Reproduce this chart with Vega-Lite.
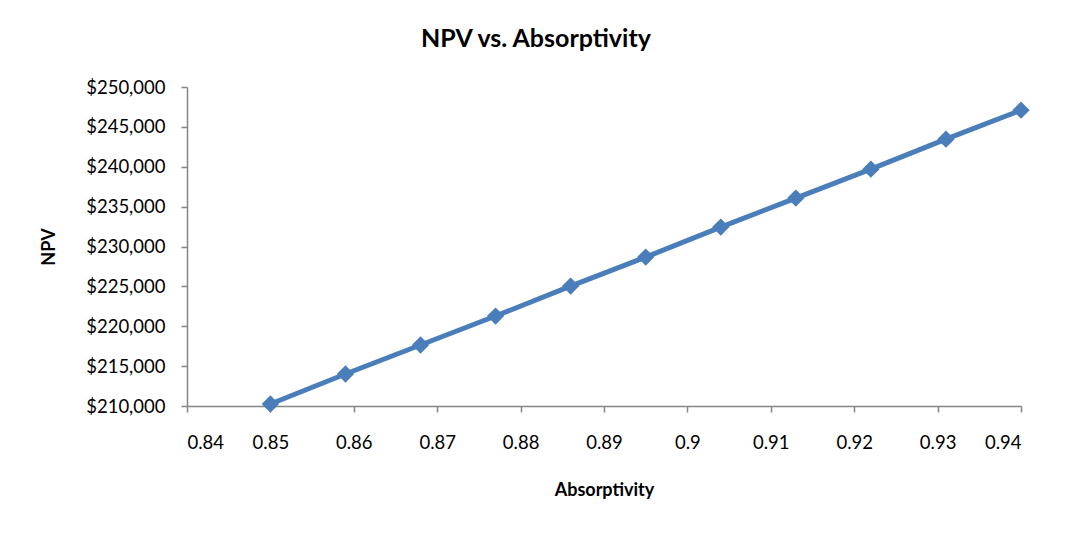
{
  "$schema": "https://vega.github.io/schema/vega-lite/v6.json",
  "autosize": "none",
  "width": 834,
  "height": 319,
  "padding": {"left": 187, "top": 87, "right": 47, "bottom": 127},
  "background": "white",
  "title": {
    "text": "NPV vs. Absorptivity",
    "font": "Lato",
    "fontSize": 25,
    "fontWeight": "bold",
    "color": "#000000",
    "anchor": "middle",
    "dx": -68,
    "offset": 26
  },
  "config": {
    "view": {"stroke": null},
    "axis": {
      "labelFont": "Lato",
      "labelFontSize": 18.5,
      "labelColor": "#000000",
      "titleFont": "Lato",
      "titleFontSize": 18,
      "titleFontWeight": "bold",
      "titleColor": "#000000",
      "domainColor": "#868686",
      "domainWidth": 1.5,
      "tickColor": "#868686",
      "tickWidth": 1.5,
      "tickSize": 6,
      "grid": false
    }
  },
  "data": {
    "values": [
      {"absorptivity": 0.85, "npv": 210250},
      {"absorptivity": 0.859, "npv": 214010},
      {"absorptivity": 0.868, "npv": 217650},
      {"absorptivity": 0.877, "npv": 221280},
      {"absorptivity": 0.886, "npv": 225040},
      {"absorptivity": 0.895, "npv": 228670},
      {"absorptivity": 0.904, "npv": 232430},
      {"absorptivity": 0.913, "npv": 236070},
      {"absorptivity": 0.922, "npv": 239700},
      {"absorptivity": 0.931, "npv": 243460},
      {"absorptivity": 0.94, "npv": 247090}
    ]
  },
  "encoding": {
    "x": {
      "field": "absorptivity",
      "type": "quantitative",
      "scale": {"domain": [0.84, 0.94], "nice": false, "zero": false},
      "axis": {
        "title": "Absorptivity",
        "values": [0.84, 0.85, 0.86, 0.87, 0.88, 0.89, 0.9, 0.91, 0.92, 0.93, 0.94],
        "format": "~g",
        "labelPadding": 21,
        "titlePadding": 30
      }
    },
    "y": {
      "field": "npv",
      "type": "quantitative",
      "scale": {"domain": [210000, 250000], "nice": false, "zero": false},
      "axis": {
        "title": "NPV",
        "values": [210000, 215000, 220000, 225000, 230000, 235000, 240000, 245000, 250000],
        "format": "$,.0f",
        "labelPadding": 16,
        "titlePadding": 27
      }
    }
  },
  "layer": [
    {"mark": {"type": "line", "color": "#4A7EBB", "strokeWidth": 5}},
    {"mark": {"type": "point", "shape": "diamond", "filled": true, "color": "#4A7EBB", "opacity": 1, "size": 300}}
  ]
}
